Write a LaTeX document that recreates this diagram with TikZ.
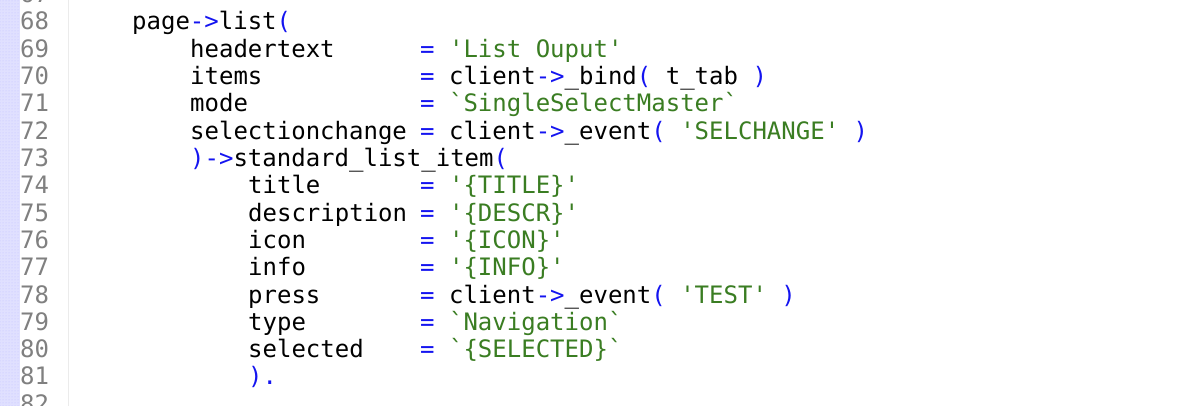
\documentclass[tikz,border=0pt]{standalone}
\usepackage{fontspec}
\setmonofont{DejaVu Sans Mono}
\usetikzlibrary{positioning,patterns}
\definecolor{kwblue}{RGB}{20,20,240}
\definecolor{strgreen}{RGB}{58,125,34}
\definecolor{numgray}{RGB}{128,128,128}
\tikzset{code/.style={anchor=base west, inner sep=0pt, font=\ttfamily\fontsize{24}{24}\selectfont}}
\tikzset{lineno/.style={code, text=numgray}}
\newcommand{\bl}[1]{\textcolor{kwblue}{#1}}
\newcommand{\gr}[1]{\textcolor{strgreen}{#1}}

\begin{document}
\begin{tikzpicture}[x=1pt,y=-1pt]
\useasboundingbox (0,0) rectangle (1178,406);
\fill[white] (0,0) rectangle (1178,406);
\fill[blue!12] (0,0) rectangle (20,406);
\fill[pattern=dots,pattern color=blue!25] (0,0) rectangle (20,406);
\draw[black!8,line width=1pt] (68,0) -- (68,406);

% line numbers
\foreach \n [count=\i from 0] in {67,...,82}
  \node (ln\n) [lineno] at (20,{30+27.3*(\i-1)}) {\n};

% code
\node (l68) [code] at (132,30) {page\bl{->}list\bl{(}};
\node (k69) [code] at (190,57.3) {headertext};
\node (v69) [code] at (420,57.3) {\bl{=} \gr{'List Ouput'}};
\node (k70) [code] at (190,84.6) {items};
\node (v70) [code] at (420,84.6) {\bl{=} client\bl{->}\_bind\bl{(} t\_tab \bl{)}};
\node (k71) [code] at (190,111.9) {mode};
\node (v71) [code] at (420,111.9) {\bl{=} \gr{`SingleSelectMaster`}};
\node (k72) [code] at (190,139.2) {selectionchange};
\node (v72) [code] at (420,139.2) {\bl{=} client\bl{->}\_event\bl{(} \gr{'SELCHANGE'} \bl{)}};
\node (l73) [code] at (190,166.5) {\bl{)->}standard\_list\_item\bl{(}};
\node (k74) [code] at (248,193.8) {title};
\node (v74) [code] at (420,193.8) {\bl{=} \gr{'\{TITLE\}'}};
\node (k75) [code] at (248,221.1) {description};
\node (v75) [code] at (420,221.1) {\bl{=} \gr{'\{DESCR\}'}};
\node (k76) [code] at (248,248.4) {icon};
\node (v76) [code] at (420,248.4) {\bl{=} \gr{'\{ICON\}'}};
\node (k77) [code] at (248,275.7) {info};
\node (v77) [code] at (420,275.7) {\bl{=} \gr{'\{INFO\}'}};
\node (k78) [code] at (248,303) {press};
\node (v78) [code] at (420,303) {\bl{=} client\bl{->}\_event\bl{(} \gr{'TEST'} \bl{)}};
\node (k79) [code] at (248,330.3) {type};
\node (v79) [code] at (420,330.3) {\bl{=} \gr{`Navigation`}};
\node (k80) [code] at (248,357.6) {selected};
\node (v80) [code] at (420,357.6) {\bl{=} \gr{`\{SELECTED\}`}};
\node (l81) [code] at (248,384.9) {\bl{).}};
\end{tikzpicture}
\end{document}
